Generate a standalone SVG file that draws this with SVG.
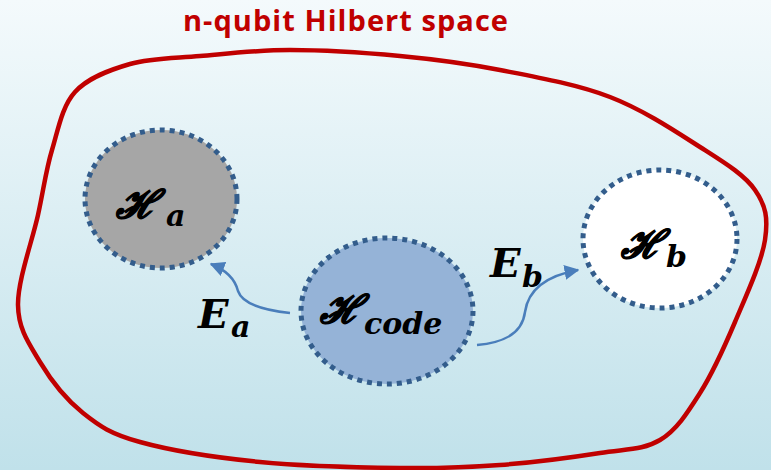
<svg xmlns="http://www.w3.org/2000/svg" width="771" height="470" viewBox="0 0 771 470">
<defs>
<linearGradient id="bg" x1="0" y1="0" x2="0" y2="1">
<stop offset="0" stop-color="#f4fafc"/>
<stop offset="1" stop-color="#c0e1ea"/>
</linearGradient>
<marker id="arr" viewBox="0 0 10 10" refX="9" refY="5" markerWidth="6" markerHeight="6" orient="auto" markerUnits="strokeWidth">
<path d="M0,0 L10,5 L0,10 z" fill="#4a7ebb"/>
</marker>
<style>
.blob{fill:none;stroke:#c00000;stroke-width:4.5}
.sp{stroke:#335d8c;stroke-width:5;stroke-dasharray:5 5}
.h{font-family:"DejaVu Serif",serif;font-weight:bold;font-style:italic;fill:#000}
.hs{stroke:#000;stroke-width:1}
.conn{fill:none;stroke:#4a7ebb;stroke-width:2.5;marker-end:url(#arr)}
.title{font-family:"Open Sans","Liberation Sans",Arial,sans-serif;font-weight:bold;font-size:29px;fill:#c00000}
</style>
</defs>
<rect width="771" height="470" fill="url(#bg)"/>
<text class="title" x="183" y="31" textLength="325">n-qubit Hilbert space</text>
<path class="blob" d="M18,305 C17.7,280.5 32.3,240.8 38,215 C43.7,189.2 45.8,170.5 52,150 C58.2,129.5 62,106.3 75,92 C88,77.7 109.2,70 130,64 C150.8,58 173.3,58.3 200,56 C226.7,53.7 256.7,50 290,50 C323.3,50 365,52.7 400,56 C435,59.3 465,63.2 500,70 C535,76.8 576.7,84.2 610,97 C643.3,109.8 675.8,131.5 700,147 C724.2,162.5 744.2,174.5 755,190 C765.8,205.5 768.3,218 765,240 C761.7,262 745.8,296.5 735,322 C724.2,347.5 712.5,373.3 700,393 C687.5,412.7 676.7,430 660,440 C643.3,450 626.7,448.8 600,453 C573.3,457.2 533.3,462.5 500,465 C466.7,467.5 440,468.5 400,468 C360,467.5 303.3,466.3 260,462 C216.7,457.7 169.5,450.2 140,442 C110.5,433.8 99.7,426.3 83,413 C66.3,399.7 50.8,380 40,362 C29.2,344 18.3,329.5 18,305 Z"/>
<g id="Ha">
<ellipse class="sp" cx="161" cy="199" rx="76" ry="69" fill="#a6a6a6"/>
<text class="h hs" x="116" y="218" font-size="39">ℋ</text>
<text class="h" x="166" y="226" font-size="30">a</text>
</g>
<g id="Hcode">
<ellipse class="sp" cx="387" cy="311" rx="86" ry="73" fill="#95b3d7"/>
<text class="h hs" x="320" y="323" font-size="39">ℋ</text>
<text class="h" x="364" y="334" font-size="30">code</text>
</g>
<g id="Hb">
<ellipse class="sp" cx="660" cy="239" rx="77" ry="69" fill="#ffffff"/>
<text class="h hs" x="621" y="258" font-size="39">ℋ</text>
<text class="h" x="666" y="267" font-size="30">b</text>
</g>
<g id="connectors">
<path class="conn" d="M290,313 C262,310 242,303 238,291 C235,279 226,270 211,264"/>
<path class="conn" d="M477,345 C500,343 522,336 525,312 C528,291 545,276 578,270"/>
</g>
<g id="labels">
<text class="h" x="198" y="328" font-size="40">E</text>
<text class="h" x="231" y="337" font-size="30">a</text>
<text class="h" x="490" y="277" font-size="40">E</text>
<text class="h" x="522" y="287" font-size="30">b</text>
</g>
</svg>
